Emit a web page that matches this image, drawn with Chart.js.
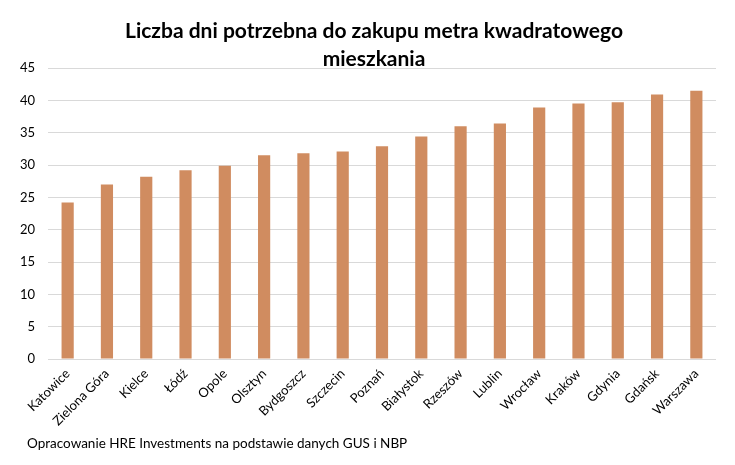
<!DOCTYPE html>
<html>
<head>
<meta charset="utf-8">
<script src="https://cdn.jsdelivr.net/npm/chart.js@4.4.1/dist/chart.umd.min.js"></script>
<style>
  html, body { margin: 0; padding: 0; background: #ffffff; }
  #wrap { position: relative; width: 735px; height: 465px; }
  #title { position: absolute; left: 74px; width: 600px; top: 16px; text-align: center; font-family: Lato, "Open Sans", sans-serif; font-size: 21px; font-weight: bold; line-height: 28px; color: #000; }
  #footer { position: absolute; left: 27px; top: 435px; font-family: Lato, "Open Sans", sans-serif; font-size: 13.5px; color: #000; white-space: nowrap; }
</style>
</head>
<body>
<div id="wrap">
  <canvas id="c" width="735" height="465"></canvas>
  <div id="title"></div>
  <div id="footer">Opracowanie HRE Investments na podstawie danych GUS i NBP</div>
</div>
<script>
const categories = ["Katowice", "Zielona Góra", "Kielce", "Łódź", "Opole", "Olsztyn", "Bydgoszcz", "Szczecin", "Poznań", "Białystok", "Rzeszów", "Lublin", "Wrocław", "Kraków", "Gdynia", "Gdańsk", "Warszawa"];
const daysNeeded = [24.2, 27.0, 28.2, 29.2, 29.9, 31.5, 31.8, 32.1, 32.9, 34.4, 36.0, 36.4, 38.9, 39.5, 39.7, 40.9, 41.5];
const titleLines = ["Liczba dni potrzebna do zakupu metra kwadratowego", "mieszkania"];
const yMin = 0, yMax = 45, yStep = 5;

const titleEl = document.getElementById('title');
titleLines.forEach((t, i) => {
  if (i) titleEl.appendChild(document.createElement('br'));
  titleEl.appendChild(document.createTextNode(t));
});

new Chart(document.getElementById('c'), {
  type: 'bar',
  data: {
    labels: categories,
    datasets: [{
      data: daysNeeded,
      backgroundColor: '#D08C60',
      borderWidth: 0,
      categoryPercentage: 1.0,
      barPercentage: 0.31
    }]
  },
  options: {
    responsive: false,
    animation: false,
    layout: { padding: { left: 0, right: 19, top: 68, bottom: 0 } },
    plugins: {
      legend: { display: false },
      tooltip: { enabled: false },
      title: { display: false }
    },
    scales: {
      x: {
        grid: { display: false, drawTicks: false },
        border: { display: false },
        ticks: {
          color: '#000000',
          font: { family: 'Lato, "Open Sans", sans-serif', size: 13 },
          maxRotation: 45, minRotation: 45, autoSkip: false, padding: 7
        },
        afterFit: (s) => { s.height = 106; }
      },
      y: {
        min: yMin, max: yMax,
        grid: { color: '#D9D9D9', lineWidth: 1, drawTicks: false },
        border: { display: false },
        ticks: {
          stepSize: yStep,
          color: '#000000',
          font: { family: 'Lato, "Open Sans", sans-serif', size: 13 },
          padding: 13
        },
        afterFit: (s) => { s.width = 48; }
      }
    }
  }
});
</script>
</body>
</html>
